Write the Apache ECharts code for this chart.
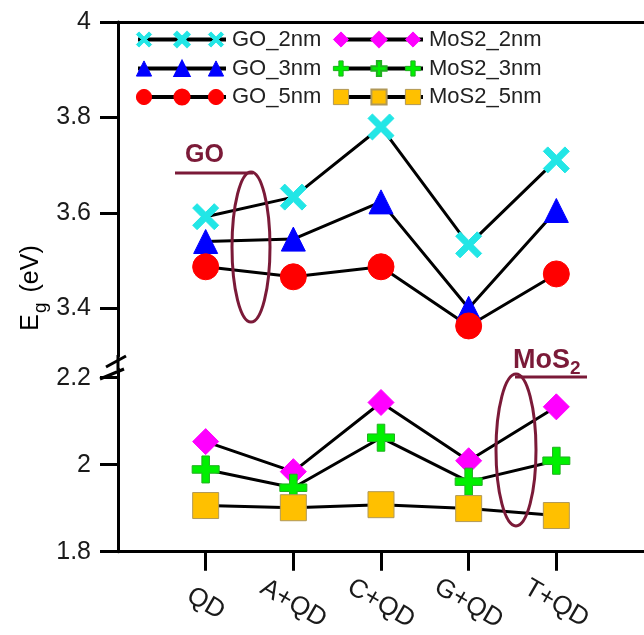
<!DOCTYPE html>
<html>
<head>
<meta charset="utf-8">
<script src="https://cdn.jsdelivr.net/npm/echarts@6/dist/echarts.min.js"></script>
<style>
html,body{margin:0;padding:0;background:#fff;}
#c{width:644px;height:635px;}
</style>
</head>
<body>
<div id="c"></div>
<script>
// ---- data ----
const categories = ['QD', 'A+QD', 'C+QD', 'G+QD', 'T+QD'];
const go2nm   = [3.592, 3.633, 3.780, 3.533, 3.711];
const go3nm   = [3.540, 3.545, 3.623, 3.400, 3.605];
const go5nm   = [3.487, 3.466, 3.487, 3.363, 3.472];
const mos2_2nm = [2.053, 1.984, 2.143, 2.009, 2.133];
const mos2_3nm = [1.989, 1.947, 2.062, 1.961, 2.009];
const mos2_5nm = [1.906, 1.901, 1.908, 1.899, 1.883];
const upperMajorTicks = [3.4, 3.6, 3.8, 4.0];
const upperMinorTicks = [3.3, 3.5, 3.7, 3.9];
const lowerMajorTicks = [1.8, 2.0, 2.2];
const lowerMinorTicks = [1.9, 2.1];

// ---- symbol shapes (10x10 box) ----
const X_PTS = [[0,1.7],[1.7,0],[5,3.3],[8.3,0],[10,1.7],[6.7,5],[10,8.3],[8.3,10],[5,6.7],[1.7,10],[0,8.3],[3.3,5]];
const PLUS_PTS = [[3.6,0],[6.4,0],[6.4,3.6],[10,3.6],[10,6.4],[6.4,6.4],[6.4,10],[3.6,10],[3.6,6.4],[0,6.4],[0,3.6],[3.6,3.6]];
const toPath = pts => 'path://M' + pts.map(p => p.join(',')).join('L') + 'Z';

const FONT = "'Liberation Sans', Arial, Helvetica, sans-serif";
const MAROON = '#7B1A38';

const styles = {
  'GO_2nm':   {symbol: toPath(X_PTS), kind: 'x', size: 26, color: '#22E6E6', border: '#22E6E6'},
  'GO_3nm':   {symbol: 'triangle', kind: 'triangle', size: 24, color: '#0000FF', border: '#0000FF'},
  'GO_5nm':   {symbol: 'circle', kind: 'circle', size: 26, color: '#FF0000', border: '#FF0000'},
  'MoS2_2nm': {symbol: 'diamond', kind: 'diamond', size: 26, color: '#FF00FF', border: '#FF00FF'},
  'MoS2_3nm': {symbol: toPath(PLUS_PTS), kind: 'plus', size: 27, color: '#00F000', border: '#20B020'},
  'MoS2_5nm': {symbol: 'rect', kind: 'rect', size: 26, color: '#FFC000', border: '#B09858'}
};

function mkSeries(name, values, xi, yi) {
  const s = styles[name];
  return {
    name: name, type: 'line', xAxisIndex: xi, yAxisIndex: yi,
    data: values.map((v, i) => [i + 1, v]),
    symbol: s.symbol, symbolSize: s.size,
    lineStyle: {color: '#000', width: 3},
    itemStyle: {color: s.color, borderColor: s.border, borderWidth: 1},
    z: 3
  };
}

// helper for legend end-markers (decoration)
function legendMarker(kind, cx, cy, sz, color, border) {
  const h = sz / 2;
  const st = {fill: color, stroke: border, lineWidth: 1};
  if (kind === 'circle') return {type: 'circle', shape: {cx: cx, cy: cy, r: h}, style: st, z: 20};
  if (kind === 'rect') return {type: 'rect', shape: {x: cx - h, y: cy - h, width: sz, height: sz}, style: st, z: 20};
  let pts;
  if (kind === 'triangle') pts = [[cx, cy - h], [cx + h, cy + h], [cx - h, cy + h]];
  else if (kind === 'diamond') pts = [[cx, cy - h], [cx + h, cy], [cx, cy + h], [cx - h, cy]];
  else {
    const src = kind === 'x' ? X_PTS : PLUS_PTS;
    pts = src.map(p => [cx + (p[0] / 10 - 0.5) * sz, cy + (p[1] / 10 - 0.5) * sz]);
  }
  return {type: 'polygon', shape: {points: pts}, style: st, z: 20};
}

const LEG_H = 19, LEG_W = 88;
const LEG_L1 = 136, LEG_L2 = 333;
const ROW_Y = [39.5, 68.5, 97];   // legend row centres
const leftNames = ['GO_2nm', 'GO_3nm', 'GO_5nm'];
const rightNames = ['MoS2_2nm', 'MoS2_3nm', 'MoS2_5nm'];
const graphics = [];
[[leftNames, LEG_L1], [rightNames, LEG_L2]].forEach(([names, L]) => {
  names.forEach((n, i) => {
    const s = styles[n];
    const cy = ROW_Y[i];
    const sz = LEG_H * 0.8;
    graphics.push(legendMarker(s.kind, L + 8, cy, sz, s.color, s.border));
    graphics.push(legendMarker(s.kind, L + LEG_W - 8, cy, sz, s.color, s.border));
  });
});

// axis bridge + break marks
graphics.push({type: 'line', shape: {x1: 118, y1: 355, x2: 118, y2: 370}, style: {stroke: '#000', lineWidth: 3}, z: 10});
graphics.push({type: 'line', shape: {x1: 106, y1: 367, x2: 126, y2: 356}, style: {stroke: '#000', lineWidth: 3}, z: 11});
graphics.push({type: 'line', shape: {x1: 100, y1: 379, x2: 124, y2: 369}, style: {stroke: '#000', lineWidth: 3}, z: 11});

// annotations
graphics.push({type: 'text', x: 185, y: 168, style: {text: 'GO', fontSize: 25, fontWeight: 'bold', fontFamily: FONT, fill: MAROON, align: 'left', verticalAlign: 'bottom'}, z: 12});
graphics.push({type: 'line', shape: {x1: 175, y1: 173, x2: 253, y2: 173}, style: {stroke: MAROON, lineWidth: 3}, z: 12});
graphics.push({type: 'ellipse', shape: {cx: 251, cy: 247, rx: 19, ry: 75}, style: {fill: null, stroke: MAROON, lineWidth: 3}, z: 12});
graphics.push({type: 'text', x: 513, y: 374, style: {text: '{a|MoS}{b|2}', fontFamily: FONT, fill: MAROON, align: 'left', verticalAlign: 'bottom',
  rich: {a: {fontSize: 27, fontWeight: 'bold', fontFamily: FONT, fill: MAROON, lineHeight: 28, verticalAlign: 'bottom'},
         b: {fontSize: 19, fontWeight: 'bold', fontFamily: FONT, fill: MAROON, lineHeight: 18, verticalAlign: 'bottom', padding: [0, 0, -4, 0]}}}, z: 12});
graphics.push({type: 'line', shape: {x1: 515, y1: 377, x2: 587, y2: 377}, style: {stroke: MAROON, lineWidth: 3}, z: 12});
graphics.push({type: 'ellipse', shape: {cx: 516, cy: 450, rx: 20, ry: 76}, style: {fill: null, stroke: MAROON, lineWidth: 3}, z: 12});

// y-axis title
graphics.push({type: 'text', x: 29, y: 288, rotation: Math.PI / 2, style: {text: '{a|E}{b|g}{a| (eV)}', align: 'center', verticalAlign: 'middle', fill: '#000',
  rich: {a: {fontSize: 25, fontFamily: FONT, fill: '#000', lineHeight: 30, verticalAlign: 'bottom'},
         b: {fontSize: 19, fontFamily: FONT, fill: '#000', lineHeight: 19, verticalAlign: 'bottom', padding: [0, 3, -6, 1]}}}, z: 12});

const axisLine = {show: true, lineStyle: {color: '#000', width: 3}};
const tickStyle = {color: '#000', width: 3};
const labelFont = {color: '#1a1a1a', fontFamily: FONT, fontSize: 25};

// one legend per row so each row sits exactly at its centre
const legends = [];
[[leftNames, LEG_L1], [rightNames, LEG_L2]].forEach(([names, L]) => {
  names.forEach((n, i) => {
    legends.push({data: [n], orient: 'horizontal', left: L, top: ROW_Y[i] - 13, height: 26,
      itemWidth: LEG_W, itemHeight: LEG_H, padding: 0, selectedMode: false,
      lineStyle: {color: '#000', width: 4},
      textStyle: {fontSize: 22, fontFamily: FONT, color: '#222', lineHeight: 26, height: 26, padding: [0, 0, 0, 1]}});
  });
});

const option = {
  animation: false,
  backgroundColor: '#fff',
  grid: [
    {left: 118, top: 22, right: -5, height: 334},
    {left: 118, top: 369, right: -5, height: 183}
  ],
  legend: legends,
  xAxis: [
    {gridIndex: 0, type: 'value', position: 'top', min: 0, max: 6, axisLine: axisLine,
     axisTick: {show: false}, axisLabel: {show: false}, splitLine: {show: false}},
    {gridIndex: 1, type: 'value', position: 'bottom', min: 0, max: 6, axisLine: axisLine,
     axisTick: {show: true, length: 19, lineStyle: tickStyle, customValues: [1, 2, 3, 4, 5]},
     axisLabel: {show: true, customValues: [1, 2, 3, 4, 5], formatter: v => categories[Math.round(v) - 1] || '',
       rotate: -30, align: 'center', verticalAlign: 'middle', margin: 52, fontSize: 26, fontFamily: FONT, color: '#1a1a1a'},
     splitLine: {show: false}}
  ],
  yAxis: [
    {gridIndex: 0, type: 'value', min: 3.3, max: 4, axisLine: axisLine,
     axisTick: {show: true, length: 18, lineStyle: tickStyle, customValues: upperMajorTicks},
     axisLabel: Object.assign({customValues: upperMajorTicks, margin: 27}, labelFont), splitLine: {show: false}},
    {gridIndex: 0, type: 'value', min: 3.3, max: 4, axisLine: {show: false},
     axisTick: {show: true, length: 10, lineStyle: tickStyle, customValues: upperMinorTicks},
     axisLabel: {show: false}, splitLine: {show: false}},
    {gridIndex: 1, type: 'value', min: 1.8, max: 2.22, axisLine: axisLine,
     axisTick: {show: true, length: 18, lineStyle: tickStyle, customValues: lowerMajorTicks},
     axisLabel: Object.assign({customValues: lowerMajorTicks, margin: 27}, labelFont), splitLine: {show: false}},
    {gridIndex: 1, type: 'value', min: 1.8, max: 2.22, axisLine: {show: false},
     axisTick: {show: true, length: 10, lineStyle: tickStyle, customValues: lowerMinorTicks},
     axisLabel: {show: false}, splitLine: {show: false}}
  ],
  series: [
    mkSeries('GO_2nm', go2nm, 0, 0),
    mkSeries('GO_3nm', go3nm, 0, 0),
    mkSeries('GO_5nm', go5nm, 0, 0),
    mkSeries('MoS2_2nm', mos2_2nm, 1, 2),
    mkSeries('MoS2_3nm', mos2_3nm, 1, 2),
    mkSeries('MoS2_5nm', mos2_5nm, 1, 2)
  ],
  graphic: graphics
};

const chart = echarts.init(document.getElementById('c'), null, {renderer: 'canvas'});
chart.setOption(option);
</script>
</body>
</html>
